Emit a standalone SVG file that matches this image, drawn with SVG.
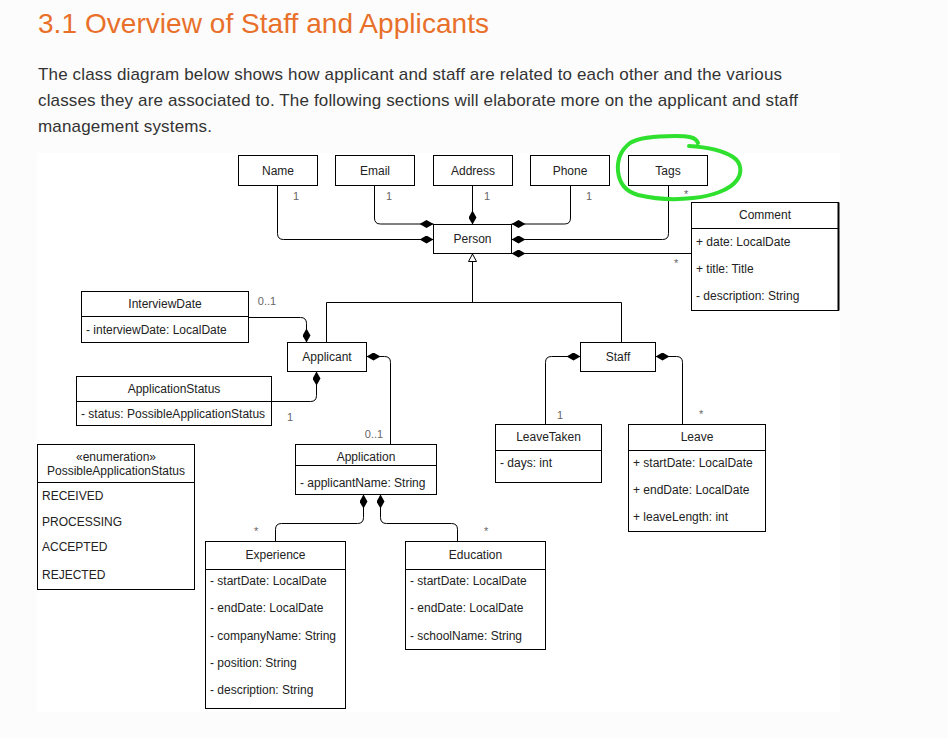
<svg xmlns="http://www.w3.org/2000/svg" width="948" height="738" viewBox="0 0 948 738">
<style>
.box{fill:#fff;stroke:#000;stroke-width:1}
.sep{stroke:#000;stroke-width:1;fill:none}
.t{font-family:"Liberation Sans",Arial,sans-serif;font-size:12px;fill:#222}
.c{text-anchor:middle}
.lbl{font-family:"Liberation Sans",Arial,sans-serif;font-size:11px;fill:#666}
.con{fill:none;stroke:#000;stroke-width:1}
.comp{marker-end:url(#diamond)}
.para{font-family:"Liberation Sans",Arial,sans-serif;font-size:17px;fill:#333}
</style>
<defs>
<marker id="diamond" viewBox="0 0 14 8" refX="14" refY="4" markerWidth="14" markerHeight="8" markerUnits="userSpaceOnUse" orient="auto">
<path d="M0,4 L7,0 L14,4 L7,8 Z" fill="#000"/>
</marker>
<marker id="tri" viewBox="0 0 9 9" refX="8.5" refY="4.5" markerWidth="9" markerHeight="9" markerUnits="userSpaceOnUse" orient="auto">
<path d="M1,0.5 L8.5,4.5 L1,8.5 Z" fill="#fff" stroke="#000" stroke-width="1"/>
</marker>
</defs>
<rect x="0" y="0" width="948" height="738" fill="#fcfcfc"/>
<rect x="37" y="153" width="803" height="559" fill="#fff"/>
<g id="heading">
<text x="38" y="33" font-family="Liberation Sans, Arial, sans-serif" font-size="28" fill="#e8702a" textLength="451">3.1 Overview of Staff and Applicants</text>
<text class="para" x="38" y="80" textLength="744">The class diagram below shows how applicant and staff are related to each other and the various</text>
<text class="para" x="38" y="106" textLength="760">classes they are associated to. The following sections will elaborate more on the applicant and staff</text>
<text class="para" x="38" y="132" textLength="174">management systems.</text>
</g>
<g id="connectors">
<path class="con comp" d="M277.5,185 V233.5 Q277.5,239.5 283.5,239.5 H433.5"/>
<path class="con comp" d="M374.5,185 V218 Q374.5,224 380.5,224 H433.5"/>
<path class="con comp" d="M472.5,185 V224.5"/>
<path class="con comp" d="M570.5,185 V218 Q570.5,224 564.5,224 H511.5"/>
<path class="con comp" d="M668.5,185 V233.5 Q668.5,239.5 662.5,239.5 H511.5"/>
<path class="con comp" d="M691.5,253.5 H511.5"/>
<path class="con" d="M326.5,342.5 V302.5 H621.5 V342.5"/>
<path class="con" d="M472.5,302.5 V254" marker-end="url(#tri)"/>
<path class="con comp" d="M248.5,317.5 H300.5 Q306.5,317.5 306.5,323.5 V342.5"/>
<path class="con comp" d="M271.5,401.5 H310.5 Q316.5,401.5 316.5,395.5 V371.5"/>
<path class="con comp" d="M390.5,444.5 V362.5 Q390.5,356.5 384.5,356.5 H366.5"/>
<path class="con comp" d="M275.5,541.5 V529.5 Q275.5,523.5 281.5,523.5 H357.5 Q363.5,523.5 363.5,517.5 V494.5"/>
<path class="con comp" d="M457.5,541.5 V529.5 Q457.5,523.5 451.5,523.5 H386.5 Q380.5,523.5 380.5,517.5 V494.5"/>
<path class="con comp" d="M545.5,424.5 V362.5 Q545.5,356.5 551.5,356.5 H580.5"/>
<path class="con comp" d="M682.5,424.5 V362.5 Q682.5,356.5 676.5,356.5 H655.5"/>
<text class="lbl" x="293" y="200">1</text>
<text class="lbl" x="386" y="200">1</text>
<text class="lbl" x="484" y="200">1</text>
<text class="lbl" x="586" y="200">1</text>
<text class="lbl" x="684" y="198">*</text>
<text class="lbl" x="674" y="267">*</text>
<text class="lbl c" x="267" y="305">0..1</text>
<text class="lbl" x="287" y="421">1</text>
<text class="lbl c" x="374" y="438">0..1</text>
<text class="lbl" x="557" y="419">1</text>
<text class="lbl" x="699" y="418">*</text>
<text class="lbl" x="254" y="535">*</text>
<text class="lbl" x="484" y="535">*</text>
</g>
<g id="Name"><rect class="box" x="238.5" y="155.5" width="79" height="30"/><text class="t c" x="278" y="175">Name</text></g>
<g id="Email"><rect class="box" x="335.5" y="155.5" width="79" height="30"/><text class="t c" x="375" y="175">Email</text></g>
<g id="Address"><rect class="box" x="433.5" y="155.5" width="79" height="30"/><text class="t c" x="473" y="175">Address</text></g>
<g id="Phone"><rect class="box" x="530.5" y="155.5" width="79" height="30"/><text class="t c" x="570" y="175">Phone</text></g>
<g id="Tags"><rect class="box" x="628.5" y="155.5" width="79" height="30"/><text class="t c" x="668" y="175">Tags</text></g>
<g id="Person"><rect class="box" x="433.5" y="224.5" width="78" height="29"/><text class="t c" x="472.5" y="243">Person</text></g>
<g id="Comment"><rect class="box" x="691.5" y="202.5" width="147" height="108"/><line x1="838.5" y1="202.5" x2="838.5" y2="310.5" stroke="#000" stroke-width="2"/><line class="sep" x1="691.5" y1="228.5" x2="838.5" y2="228.5"/>
<text class="t c" x="765" y="219">Comment</text>
<text class="t" x="696" y="246">+ date: LocalDate</text>
<text class="t" x="696" y="273">+ title: Title</text>
<text class="t" x="696" y="300">- description: String</text></g>
<g id="InterviewDate"><rect class="box" x="81.5" y="291.5" width="167" height="51"/><line class="sep" x1="81.5" y1="316.5" x2="248.5" y2="316.5"/>
<text class="t c" x="165" y="308">InterviewDate</text>
<text class="t" x="86" y="334">- interviewDate: LocalDate</text></g>
<g id="Applicant"><rect class="box" x="287.5" y="342.5" width="79" height="29"/><text class="t c" x="327" y="361">Applicant</text></g>
<g id="ApplicationStatus"><rect class="box" x="76.5" y="376.5" width="195" height="49"/><line class="sep" x1="76.5" y1="401.5" x2="271.5" y2="401.5"/>
<text class="t c" x="174" y="393">ApplicationStatus</text>
<text class="t" x="81" y="418">- status: PossibleApplicationStatus</text></g>
<g id="PossibleApplicationStatus"><rect class="box" x="37.5" y="444.5" width="157" height="145"/><line class="sep" x1="37.5" y1="482.5" x2="194.5" y2="482.5"/>
<text class="t c" x="116" y="461">«enumeration»</text>
<text class="t c" x="116" y="475">PossibleApplicationStatus</text>
<text class="t" x="42" y="500">RECEIVED</text>
<text class="t" x="42" y="526">PROCESSING</text>
<text class="t" x="42" y="551">ACCEPTED</text>
<text class="t" x="42" y="579">REJECTED</text></g>
<g id="Application"><rect class="box" x="295.5" y="444.5" width="141" height="50"/><line class="sep" x1="295.5" y1="465.5" x2="436.5" y2="465.5"/>
<text class="t c" x="366" y="461">Application</text>
<text class="t" x="300" y="487">- applicantName: String</text></g>
<g id="Staff"><rect class="box" x="580.5" y="342.5" width="75" height="29"/><text class="t c" x="618" y="361">Staff</text></g>
<g id="LeaveTaken"><rect class="box" x="495.5" y="424.5" width="106" height="58"/><line class="sep" x1="495.5" y1="450.5" x2="601.5" y2="450.5"/>
<text class="t c" x="548.5" y="441">LeaveTaken</text>
<text class="t" x="500" y="467">- days: int</text></g>
<g id="Leave"><rect class="box" x="628.5" y="424.5" width="137" height="107"/><line class="sep" x1="628.5" y1="450.5" x2="765.5" y2="450.5"/>
<text class="t c" x="697" y="441">Leave</text>
<text class="t" x="633" y="467">+ startDate: LocalDate</text>
<text class="t" x="633" y="494">+ endDate: LocalDate</text>
<text class="t" x="633" y="521">+ leaveLength: int</text></g>
<g id="Experience"><rect class="box" x="205.5" y="541.5" width="140" height="167"/><line class="sep" x1="205.5" y1="569.5" x2="345.5" y2="569.5"/>
<text class="t c" x="275.5" y="559">Experience</text>
<text class="t" x="210" y="585">- startDate: LocalDate</text>
<text class="t" x="210" y="612">- endDate: LocalDate</text>
<text class="t" x="210" y="640">- companyName: String</text>
<text class="t" x="210" y="667">- position: String</text>
<text class="t" x="210" y="694">- description: String</text></g>
<g id="Education"><rect class="box" x="405.5" y="541.5" width="140" height="108"/><line class="sep" x1="405.5" y1="569.5" x2="545.5" y2="569.5"/>
<text class="t c" x="475.5" y="559">Education</text>
<text class="t" x="410" y="585">- startDate: LocalDate</text>
<text class="t" x="410" y="612">- endDate: LocalDate</text>
<text class="t" x="410" y="640">- schoolName: String</text></g>
<g id="highlight">
<path d="M689,146 C705,147 722,150 733,157 C742,163 742,173 737,180 C730,190 712,196 693,198 C676,200 655,199 638,195 C624,191 619,182 618,171 C617,160 621,150 630,143 C640,137 660,136 675,136 C688,136 696,137 698,143" fill="none" stroke="#2fe02f" stroke-width="4" stroke-linecap="round" stroke-linejoin="round"/>
</g>
</svg>
